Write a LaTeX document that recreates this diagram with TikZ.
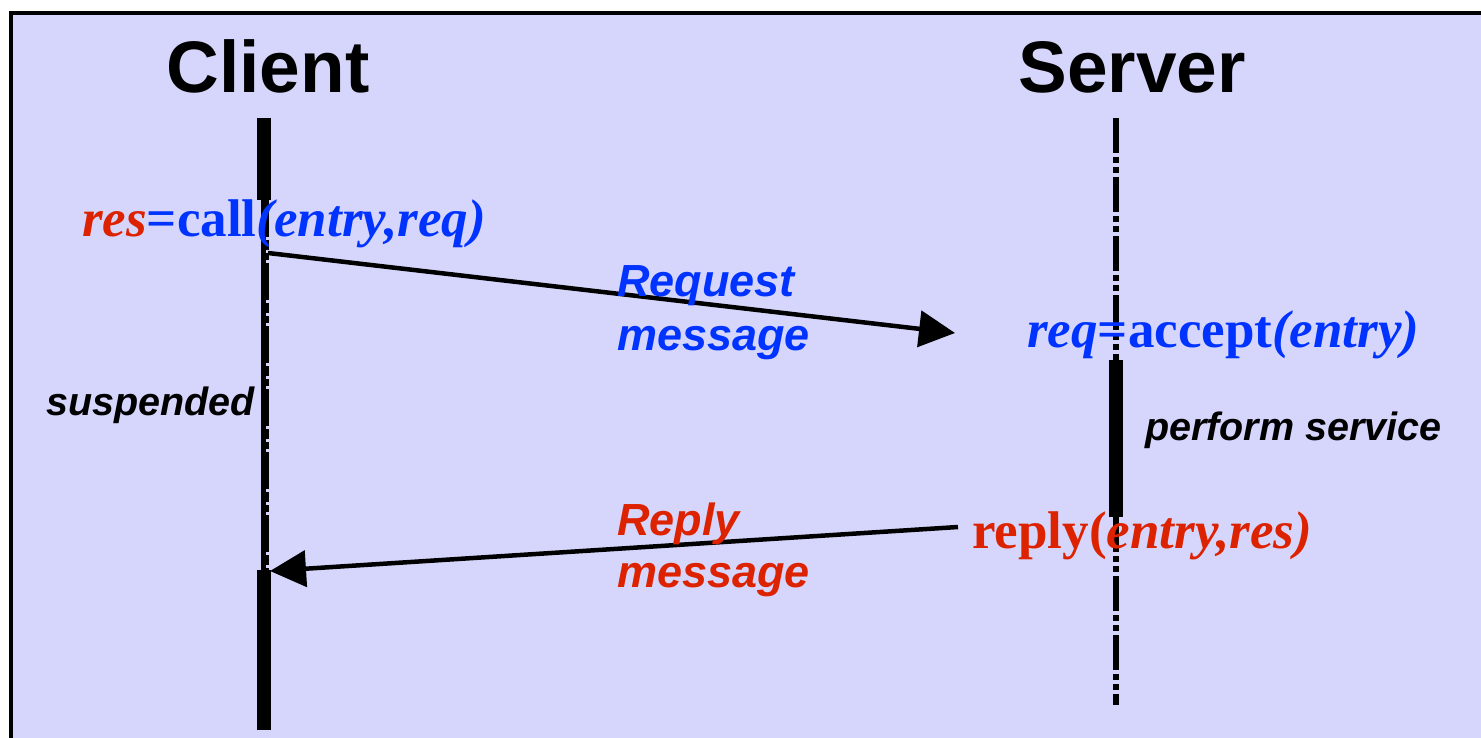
\documentclass[tikz,border=0pt]{standalone}
\usepackage{fontspec}
\setmainfont{Liberation Serif}
\newfontfamily\arial{Liberation Sans}
\usetikzlibrary{arrows.meta}
\definecolor{bg}{RGB}{214,214,252}
\definecolor{myblue}{RGB}{0,51,255}
\definecolor{myred}{RGB}{221,34,0}
\tikzset{
  msg/.style={line width=4.5pt,-{Triangle[length=36pt,width=36pt]}},
  busy/.style={line width=14pt},
  idle/.style={line width=6pt,dash pattern=on 35pt off 4pt on 6pt off 4pt on 6pt off 4pt},
  txt/.style={inner sep=0pt,anchor=base west},
  head/.style={inner sep=0pt,anchor=base,font=\arial\bfseries\fontsize{73}{80}\selectfont},
  call/.style={txt,font=\bfseries\fontsize{53}{58}\selectfont},
  note/.style={txt,font=\arial\bfseries\itshape\fontsize{45}{50}\selectfont},
  state/.style={txt,font=\arial\bfseries\itshape\fontsize{39.5}{44}\selectfont},
}

\begin{document}
\begin{tikzpicture}[x=1pt,y=-1pt]
\useasboundingbox (0,0) rectangle (1481,738);
\fill[bg] (11,13) rectangle (1490,745);
\draw[line width=4pt] (11,745) -- (11,13) -- (1490,13);

\coordinate (c0) at (264,118);
\coordinate (c1) at (264,200);
\coordinate (c2) at (264,570);
\coordinate (c3) at (264,730);
\coordinate (s0) at (1116,118);
\coordinate (s1) at (1116,360);
\coordinate (s2) at (1116,517);
\coordinate (s3) at (1116,705);
\coordinate (rqa) at (268,253);
\coordinate (rqb) at (955,333);
\coordinate (rpa) at (958,527);
\coordinate (rpb) at (270,571);

\draw[busy] (c0) -- (c1);
\draw[line width=5pt] ([xshift=-1pt]c1) -- ([xshift=-1pt]c2);
\draw[line width=8pt,dash pattern=on 37pt off 3pt on 10pt off 3pt on 7pt off 3pt] ([xshift=1pt]c1) -- ([xshift=1pt]c2);
\draw[busy] (c2) -- (c3);
\draw[idle] (s0) -- (s1);
\draw[busy] (s1) -- (s2);
\draw[idle] (s2) -- (s3);

\draw[msg] (rqa) -- (rqb);
\draw[msg] (rpa) -- (rpb);

\node[head] (client) at (268,93) {Client};
\node[head] (server) at (1132,93) {Server};

\node[call,text=myblue] (calltxt) at (82,237) {\textcolor{myred}{\textit{res}}=call\textit{(entry,req)}};
\node[call,text=myblue] (accepttxt) at (1027,347) {\textit{req}=accept\textit{(entry)}};
\node[call,text=myred] (replytxt) at (972,548) {reply(\textit{entry,res)}};

\node[note,text=myblue] (req1) at (617,297) {Request};
\node[note,text=myblue] (req2) at (617,350) {message};
\node[note,text=myred] (rep1) at (617,535) {Reply};
\node[note,text=myred] (rep2) at (617,587) {message};

\node[state,anchor=base east] (susp) at (255,415) {suspended};
\node[state] (serv) at (1145,440) {perform service};
\end{tikzpicture}
\end{document}
